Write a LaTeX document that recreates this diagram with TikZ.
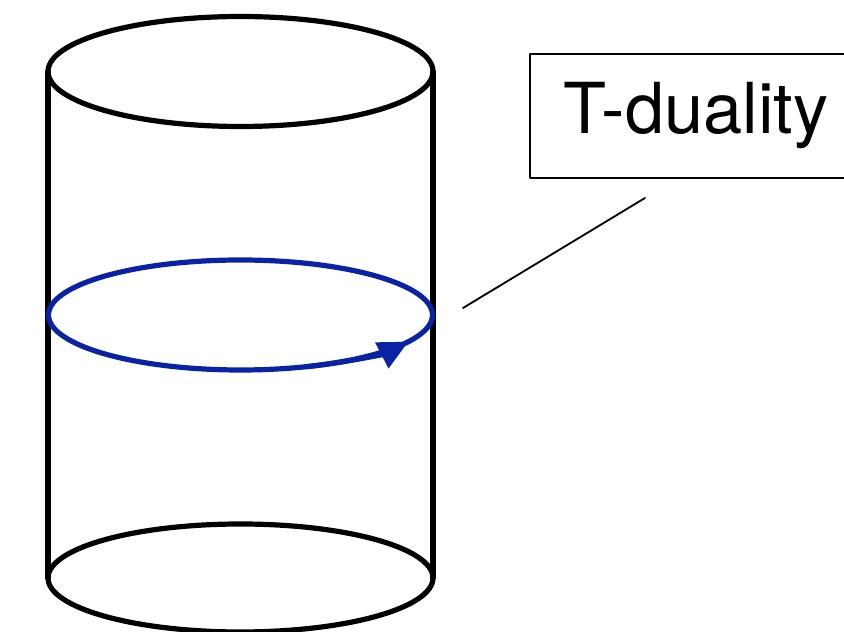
\documentclass[tikz,border=0pt]{standalone}
\usepackage{fontspec}
\newfontfamily\labelfont{TeX Gyre Heros}
\usepackage{tikz}
\usetikzlibrary{arrows.meta,positioning,calc}

\definecolor{loopblue}{RGB}{10,35,165}

\begin{document}
\begin{tikzpicture}[
  x=0.025cm,
  y=0.025cm,
  line cap=round,
  line join=round,
  tube/.style={line width=3.7pt, black},
  winding/.style={line width=3.7pt, loopblue},
  labelbox/.style={draw, line width=1.4pt, inner xsep=0.85cm,
    minimum height=3.1cm, font=\labelfont\fontsize{50}{53}\selectfont},
  pointer/.style={line width=1.3pt}
]

% Page frame, same size as the reference
\useasboundingbox (0,0) rectangle (844,632);

% Centres of the three circles of the cylinder
\coordinate (top) at (240.5,560.5);
\coordinate (mid) at (240.5,317);
\coordinate (bot) at (240.5,54);

% Cylinder sides
\draw[tube] ($(top)+(-192.5,0)$) -- ($(bot)+(-192.5,0)$);
\draw[tube] ($(top)+(192.5,0)$) -- ($(bot)+(192.5,0)$);

% Top and bottom rims
\draw[tube] (top) ellipse (192.5 and 55);
\draw[tube] (bot) ellipse (192.5 and 54);

% Winding circle with its direction
\draw[winding] (mid) ellipse (192 and 55);
\draw[winding, -{Triangle[length=0.75cm, width=0.7cm]}]
  ($(mid)+(290:192 and 55)$)
  arc[start angle=290, end angle=331, x radius=192, y radius=55];

% Label and its pointer
\node[labelbox, anchor=north west] (dual) at (529,579) {T-duality};
\coordinate (tipa) at (463,324);
\coordinate (tipb) at ($(dual.south west)+(116,-19)$);
\draw[pointer] (tipa) -- (tipb);

\end{tikzpicture}
\end{document}
